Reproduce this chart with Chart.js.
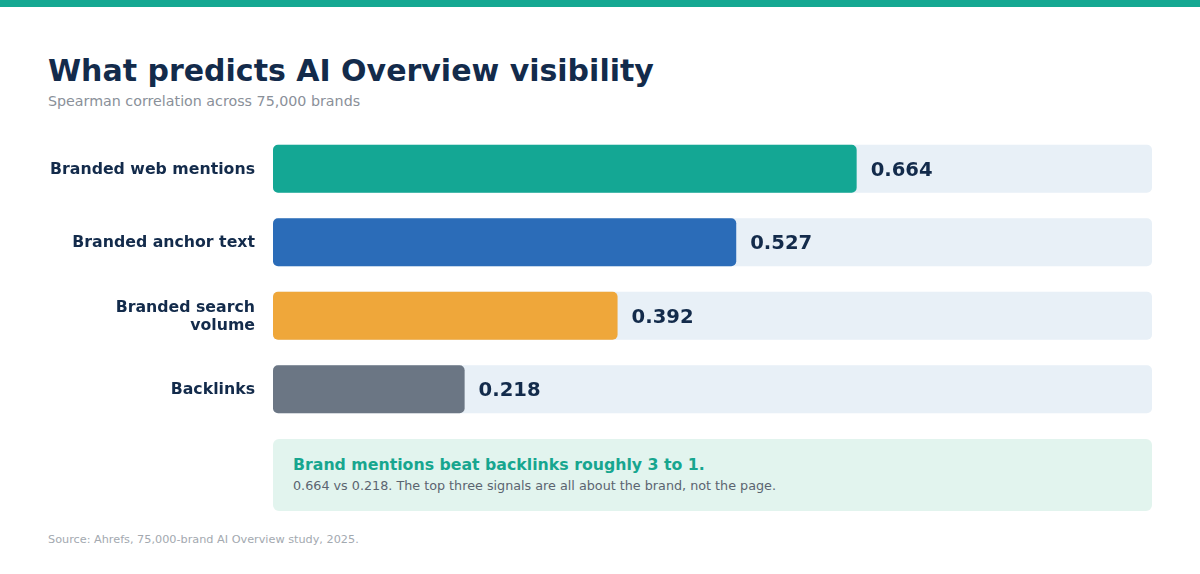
<!DOCTYPE html>
<html>
<head>
<meta charset="utf-8">
<script src="https://cdn.jsdelivr.net/npm/chart.js@4.4.1/dist/chart.umd.min.js"></script>
<style>
  html, body { margin: 0; padding: 0; background: #ffffff; }
  body { width: 1200px; height: 574px; position: relative; overflow: hidden; font-family: "DejaVu Sans", sans-serif; }
  .stripe { position: absolute; left: 0; top: 0; width: 1200px; height: 7px; background: #15a892; }
  .title { position: absolute; left: 48px; top: 53px; font-size: 30px; font-weight: bold; color: #132b4b; white-space: nowrap; }
  .subtitle { position: absolute; left: 48px; top: 93px; font-size: 14.25px; color: #8a9099; white-space: nowrap; }
  .chartbox { position: absolute; left: 0; top: 132px; width: 1200px; height: 294px; }
  .callout { position: absolute; left: 273px; top: 439px; width: 879px; height: 72px; background: #e2f4ee; border-radius: 6px; }
  .callout .head { position: absolute; left: 20px; top: 16px; font-size: 15.75px; font-weight: bold; color: #17a68f; white-space: nowrap; }
  .callout .body { position: absolute; left: 20px; top: 39px; font-size: 12.75px; color: #5b6470; white-space: nowrap; }
  .source { position: absolute; left: 48px; top: 533px; font-size: 11.25px; color: #a3a9b0; white-space: nowrap; }
</style>
</head>
<body>
<div class="stripe"></div>
<div class="title">What predicts AI Overview visibility</div>
<div class="subtitle">Spearman correlation across 75,000 brands</div>
<div class="chartbox"><canvas id="myGraph"></canvas></div>
<div class="callout">
  <div class="head">Brand mentions beat backlinks roughly 3 to 1.</div>
  <div class="body">0.664 vs 0.218. The top three signals are all about the brand, not the page.</div>
</div>
<div class="source">Source: Ahrefs, 75,000-brand AI Overview study, 2025.</div>

<script>
// data
var signals = [["Branded web mentions"], ["Branded anchor text"], ["Branded search", "volume"], ["Backlinks"]];
var correlation = [0.664, 0.527, 0.392, 0.218];
var barColors = ["#14a794", "#2b6cb8", "#efa73a", "#6b7684"];
var trackMax = [1, 1, 1, 1];

// value text next to each bar
var valueLabels = {
    id: 'valueLabels',
    afterDatasetsDraw: function (chart) {
        var ctx = chart.ctx;
        var meta = chart.getDatasetMeta(0);
        ctx.save();
        ctx.font = 'bold 19.6px "DejaVu Sans", sans-serif';
        ctx.fillStyle = '#132b4b';
        ctx.textAlign = 'left';
        ctx.textBaseline = 'middle';
        meta.data.forEach(function (bar, i) {
            ctx.fillText(correlation[i].toFixed(3), bar.x + 14, bar.y + 2);
        });
        ctx.restore();
    }
};

var ctx = document.getElementById('myGraph');
var myChart = new Chart(ctx, {
    type: 'bar',
    data: {
        labels: signals,
        datasets: [
            {
                label: 'Spearman correlation',
                data: correlation,
                backgroundColor: barColors,
                borderRadius: 5,
                borderSkipped: false,
                grouped: false,
                order: 0,
                barPercentage: 0.653,
                categoryPercentage: 1
            },
            {
                label: 'track',
                data: trackMax,
                backgroundColor: '#e8f0f7',
                borderRadius: 5,
                borderSkipped: false,
                grouped: false,
                order: 1,
                barPercentage: 0.653,
                categoryPercentage: 1
            }
        ]
    },
    options: {
        indexAxis: 'y',
        responsive: true,
        maintainAspectRatio: false,
        animation: false,
        layout: { padding: { left: 0, right: 48, top: 0, bottom: 0 } },
        plugins: {
            legend: { display: false },
            tooltip: { enabled: false }
        },
        scales: {
            x: { display: false, min: 0, max: 1 },
            y: {
                grid: { display: false, drawTicks: false },
                border: { display: false },
                ticks: {
                    padding: 18,
                    labelOffset: 1,
                    color: '#132b4b',
                    font: { family: '"DejaVu Sans", sans-serif', size: 15.75, weight: 'bold', lineHeight: 1.15 }
                },
                afterFit: function (scale) {
                    // fixed gutter for the labels, no extra top/bottom padding
                    scale.width = 273;
                    scale.paddingTop = 0;
                    scale.paddingBottom = 0;
                }
            }
        }
    },
    plugins: [valueLabels]
});
</script>
</body>
</html>
